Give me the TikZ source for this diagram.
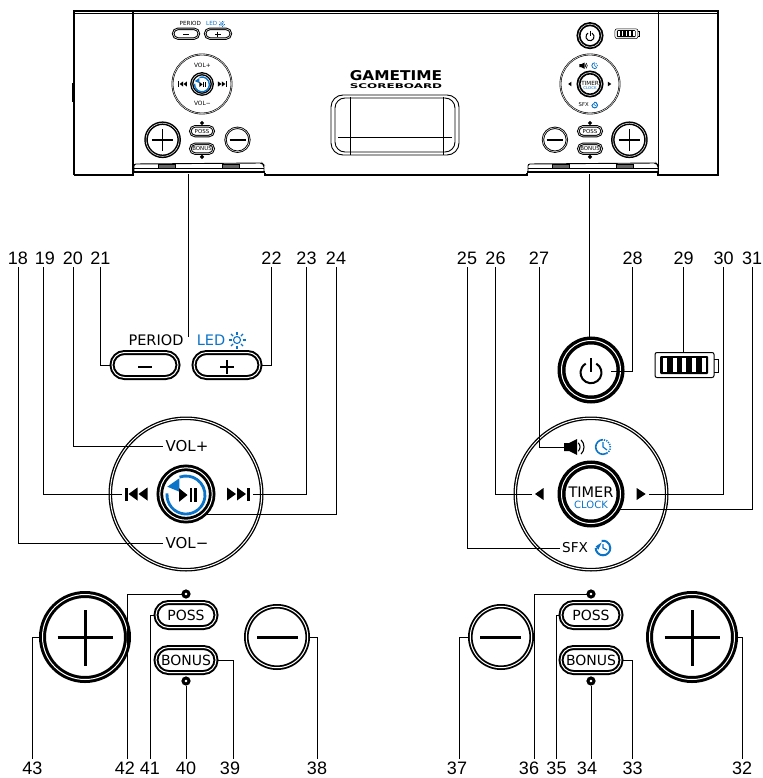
\documentclass[tikz,border=0pt]{standalone}
\usepackage{fontspec}
\setmainfont{Liberation Sans}
\newfontfamily\panelfont{DejaVu Sans}
\newfontfamily\logofont{DejaVu Sans Bold}
\usepackage{tikz}
\tikzset{>=latex}
\usetikzlibrary{shapes.misc}
\definecolor{ledblue}{RGB}{11,116,200}
\tikzset{
    num/.style={font=\fontsize{18}{20}\selectfont, inner sep=2.5pt},
    leader/.style={line width=.8pt},
    txt/.style={font=\panelfont\fontsize{#1}{#1}\selectfont, inner sep=2pt},
    ring/.style={draw, circle, inner sep=0pt, line width=\lwk*#1, double, double distance=\lwk*1pt},
    pill/.style={draw, rounded rectangle, inner sep=0pt, minimum width=64, minimum height=25, line width=\lwk*2pt, double, double distance=\lwk*1pt},
    hole/.style={draw, circle, inner sep=0pt, minimum size=6, line width=\lwk*3pt},
    glyph/.style={line width=\lwk*#1},
    blueline/.style={ledblue, line width=\lwk*#1},
    thin edge/.style={line width=.9pt},
}
\newcommand{\pills}[1]{
    \node[pill, txt=14] (#1poss) at (0, 121){POSS};
    \node[pill, txt=14] (#1bonus) at (0, 166){BONUS};
    \node[hole] (#1dotT) at (0, 100){};
    \node[hole] (#1dotB) at (0, 187){};
}
\newcommand{\leftpanel}[4]{\begin{scope}[shift={(#2)}, scale=#3, transform shape]
    \def\lwk{#4}
    \node[txt=14.5] (#1period) at (-30, -154){PERIOD};
    \node[txt=14.5, ledblue] (#1led) at (25, -154){LED};
    \draw[blueline=1.1pt] (51, -154) circle[radius=3.5];
    \foreach \ang in {0, 45, ..., 315}{
        \draw[blueline=1.1pt] (51, -154) ++(\ang:5.5) -- ++(\ang:3);
    }
    \node[pill, minimum width=66] (#1pm) at (-41, -129){};
    \node[pill, minimum width=66] (#1pp) at (41, -129){};
    \draw[glyph=2pt] (-48, -127)--(-34, -127);
    \draw[glyph=2pt] (34, -127)--(48, -127);
    \draw[glyph=2pt] (41, -134)--(41, -120);
    \node[ring=1.3pt, minimum size=151.4] (#1vol) at (0, 0){};
    \node[ring=2.8pt, minimum size=52.4] (#1play) at (0, 0){};
    \node[txt=15] (#1volp) at (1, -48){VOL+};
    \node[txt=15] (#1volm) at (1, 49){VOL−};
    \coordinate (#1prev) at (-64, 0);
    \coordinate (#1next) at (67, 0);
    \fill (-61, -6.5) rectangle (-58.5, 6.5);
    \fill (-57.5, 0)--(-48.5, -6.5)--(-48.5, 6.5)--cycle;
    \fill (-47.5, 0)--(-38.5, -6.5)--(-38.5, 6.5)--cycle;
    \fill (61, -6.5) rectangle (63.5, 6.5);
    \fill (60, 0)--(51, -6.5)--(51, 6.5)--cycle;
    \fill (50, 0)--(41, -6.5)--(41, 6.5)--cycle;
    \draw[blueline=2.8pt] (0, 1) ++(-175:19) arc[start angle=-175, end angle=-470, radius=19];
    \fill[ledblue] (-18.7, -7.3)--(-6.7, -15.7)--(-6.7, -2.3)--cycle;
    \fill (-7, -5.8)--(1.5, 1)--(-7, 7.8)--cycle;
    \fill (3.5, -5.8) rectangle (6, 7.8);
    \fill (8, -5.8) rectangle (10.5, 7.8);
    \pills{#1}
    \node[ring=3pt, minimum size=85] (#1plus) at (-101, 143){};
    \draw[glyph=3pt] (-128.5, 143)--(-73.5, 143);
    \draw[glyph=3pt] (-101, 116)--(-101, 172);
    \node[ring=1.8pt, minimum size=61.4] (#1minus) at (91, 143){};
    \draw[glyph=3pt] (71, 143)--(112, 143);
\end{scope}}
\newcommand{\rightpanel}[4]{\begin{scope}[shift={(#2)}, scale=#3, transform shape]
    \def\lwk{#4}
    \node[ring=3.5pt, minimum size=59] (#1power) at (0, -124){};
    \draw[glyph=2pt] (0, -121.3) ++(-60:10.5) arc[start angle=-60, end angle=240, radius=10.5];
    \draw[glyph=2pt] (0, -136)--(0, -122);
    \node[draw, rounded corners=2, inner sep=0pt, minimum width=59, minimum height=25, line width=\lwk*1pt] (#1bat) at (93.5, -129){};
    \fill[rounded corners=1] (69, -138) rectangle (117, -120);
    \fill[white] (72, -136) rectangle (76, -122);
    \fill[white] (81.7, -136) rectangle (85.7, -122);
    \fill[white] (91.3, -136) rectangle (95.3, -122);
    \fill[white] (101, -136) rectangle (105, -122);
    \fill[white] (110.7, -136) rectangle (114.7, -122);
    \draw[line width=\lwk*1pt] (123, -135)--(127, -135)--(127, -122)--(123, -122);
    \node[ring=1.3pt, minimum size=151.4] (#1vol) at (0, 0){};
    \node[ring=3.5pt, minimum size=59] (#1timer) at (0, 0){};
    \node[txt=14.5, inner sep=0pt] (#1txtT) at (0, -2){TIMER};
    \node[txt=10, ledblue, inner sep=0pt] (#1txtC) at (0, 11){CLOCK};
    \coordinate (#1lft) at (-59, 0);
    \coordinate (#1rgt) at (58, 0);
    \fill (-56, 0)--(-47.5, -6)--(-47.5, 6)--cycle;
    \fill (54.7, 0)--(45.7, -6)--(45.7, 6)--cycle;
    \coordinate (#1spk) at (-27, -47);
    \fill (-27, -51)--(-22, -51)--(-14, -55)--(-14, -39)--(-22, -43)--(-27, -43)--cycle;
    \draw[glyph=1.1pt] (-17, -47) ++(-45:6) arc[start angle=-45, end angle=45, radius=6];
    \draw[glyph=1.1pt] (-17, -47) ++(-45:10) arc[start angle=-45, end angle=45, radius=10];
    \draw[blueline=1.6pt] (12, -47) ++(-90:7.3) arc[start angle=-90, end angle=-300, radius=7.3];
    \draw[blueline=1.6pt, dash pattern=on 1.2pt off 1.2pt] (12, -47) ++(-300:7.3) arc[start angle=-300, end angle=-450, radius=7.3];
    \draw[blueline=1.2pt] (12, -52)--(12, -47)--(16, -44);
    \node[txt=13.6] (#1sfx) at (-16, 54){SFX};
    \draw[blueline=2pt] (12, 54) ++(-180:7.3) arc[start angle=-180, end angle=-460, radius=7.3];
    \fill[ledblue] (4.7, 52.4)--(10.7, 48.4)--(7.3, 55.7)--cycle;
    \draw[blueline=1.2pt] (12, 50)--(12, 54)--(16, 56);
    \pills{#1}
    \node[ring=1.8pt, minimum size=61.4] (#1minus) at (-90, 143){};
    \draw[glyph=3pt] (-111, 143)--(-70, 143);
    \node[ring=3pt, minimum size=85] (#1plus) at (101, 143){};
    \draw[glyph=3pt] (73.5, 143)--(128.5, 143);
    \draw[glyph=3pt] (101, 116)--(101, 172);
\end{scope}}
\newcommand{\tray}[1]{\begin{scope}[shift={(#1, 0)}]
    \draw[thin edge, rounded corners=2] (134, 173)--(134, 164)--(262, 163)--(264, 165)--(264, 173);
    \draw[thin edge] (134, 168)--(264, 168);
    \draw[line width=2pt] (133, 172.5)--(265, 172.5);
    \draw[thin edge, fill=black!60] (158, 164) rectangle (175, 168);
    \draw[thin edge, fill=black!60] (222, 164) rectangle (239, 168);
\end{scope}}

\begin{document}
\begin{tikzpicture}[x=1pt, y=-1pt]
    \useasboundingbox (0, 0) rectangle (762, 778);
    \draw[line width=1.2pt] (74, 175)--(74, 11)--(718, 11)--(718, 175)--(658, 175)--(658, 173);
    \draw[line width=1.2pt] (74, 175)--(133, 175)--(133, 11);
    \draw[line width=1.2pt] (265, 173)--(265, 175)--(527, 175)--(527, 173);
    \draw[thin edge] (74, 13)--(718, 13);
    \draw[thin edge] (658, 11)--(658, 175);
    \draw[line width=1.5pt] (73, 83)--(73, 102);
    \tray{0}
    \tray{394}
    \draw[thin edge, rounded corners=12] (331, 155)--(331, 95)--(459, 95)--(459, 155)--cycle;
    \draw[thin edge, rounded corners=10] (335, 152)--(335, 98)--(455, 98)--(455, 152)--cycle;
    \draw[thin edge] (350, 97)--(350, 155);
    \draw[thin edge] (443, 97)--(443, 155);
    \draw[thin edge] (338, 137)--(452, 137);
    \node[font=\logofont\fontsize{13.5}{13.5}\selectfont, inner sep=0pt, xscale=1.14] (logoA) at (396, 76){GAMETIME};
    \node[font=\logofont\fontsize{6.5}{6.5}\selectfont, inner sep=0pt, xscale=1.84] (logoB) at (396, 86.5){SCOREBOARD};
    \leftpanel{mL}{202, 84}{.39}{.5}
    \rightpanel{mR}{590, 84}{.39}{.5}
    \leftpanel{L}{186, 494}{1}{1}
    \rightpanel{R}{591, 494}{1}{1}
    \coordinate (trayL) at (188, 174);
    \coordinate (trayR) at (589, 174);
    \coordinate (periodEnd) at (188, 337);
    \draw[leader] (trayL)--(periodEnd);
    \draw[leader] (trayR)--(trayR |- Rpower.north);
    \node[num] (lbl18) at (18, 258){18};
    \node[num] (lbl19) at (45, 258){19};
    \node[num] (lbl20) at (73, 258){20};
    \node[num] (lbl21) at (100.5, 258){21};
    \node[num] (lbl22) at (271.5, 258){22};
    \node[num] (lbl23) at (306.5, 258){23};
    \node[num] (lbl24) at (336, 258){24};
    \node[num] (lbl25) at (467, 258){25};
    \node[num] (lbl26) at (495.5, 258){26};
    \node[num] (lbl27) at (539, 258){27};
    \node[num] (lbl28) at (632.5, 258){28};
    \node[num] (lbl29) at (683.5, 258){29};
    \node[num] (lbl30) at (723.5, 258){30};
    \node[num] (lbl31) at (752, 258){31};
    \node[num] (lbl32) at (742, 768){32};
    \node[num] (lbl33) at (632.5, 768){33};
    \node[num] (lbl34) at (587, 768){34};
    \node[num] (lbl35) at (556.5, 768){35};
    \node[num] (lbl36) at (529, 768){36};
    \node[num] (lbl37) at (457, 768){37};
    \node[num] (lbl38) at (317, 768){38};
    \node[num] (lbl39) at (230, 768){39};
    \node[num] (lbl40) at (186, 768){40};
    \node[num] (lbl41) at (150, 768){41};
    \node[num] (lbl42) at (125, 768){42};
    \node[num] (lbl43) at (32.5, 768){43};
    \draw[leader] (lbl18.south) |- (Lvolm.west);
    \draw[leader] ([xshift=-2pt]lbl19.south) |- (Lprev);
    \draw[leader] (lbl20.south) |- (Lvolp.west);
    \draw[leader] (lbl21.south) |- (Lpm.west);
    \draw[leader] (lbl22.south) |- (Lpp.east);
    \draw[leader] (lbl23.south) |- (Lnext);
    \draw[leader] (lbl24.south) |- (Lplay.-48);
    \draw[leader] (lbl25.south) |- (Rsfx.west);
    \draw[leader] (lbl26.south) |- (Rlft);
    \draw[leader] (lbl27.south) |- (Rspk);
    \draw[leader] (lbl28.south) |- ([xshift=20pt, yshift=-1pt]Rpower.center);
    \draw[leader] (lbl29.south) -- (lbl29.south |- Rbat.north);
    \draw[leader] (lbl30.south) |- (Rrgt);
    \draw[leader] (lbl31.south) |- (Rtimer.-30);
    \draw[leader] (lbl32.north) |- (Rplus.east);
    \draw[leader] (lbl33.north) |- (Rbonus.east);
    \draw[leader] ([xshift=4pt]lbl34.north) -- (RdotB.south);
    \draw[leader] (lbl35.north) |- (Rposs.west);
    \draw[leader] ([xshift=5pt]lbl36.north) |- (RdotT.west);
    \draw[leader] ([xshift=2pt]lbl37.north) |- (Rminus.west);
    \draw[leader] (lbl38.north) |- (Lminus.east);
    \draw[leader] ([xshift=3pt]lbl39.north) |- (Lbonus.east);
    \draw[leader] (lbl40.north) -- (LdotB.south);
    \draw[leader] (lbl41.north) |- (Lposs.west);
    \draw[leader] ([xshift=2pt]lbl42.north) |- (LdotT.west);
    \draw[leader] (lbl43.north) |- (Lplus.west);
\end{tikzpicture}
\end{document}
